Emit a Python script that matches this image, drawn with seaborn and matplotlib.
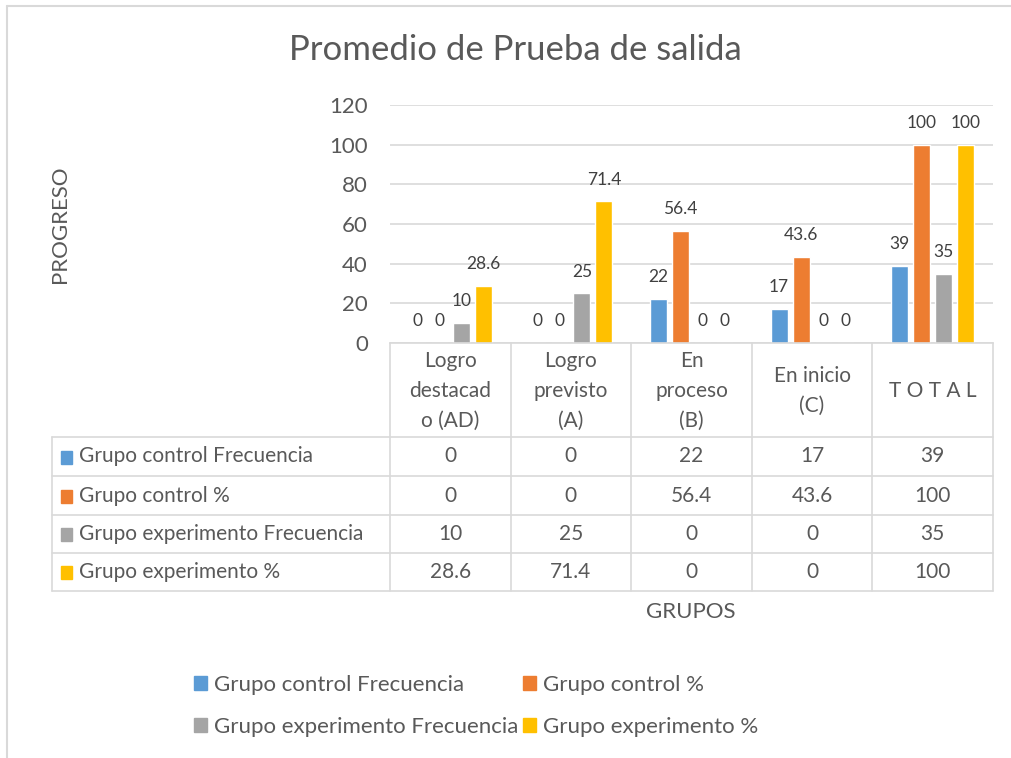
import matplotlib
matplotlib.use("Agg")
import matplotlib.pyplot as plt
import matplotlib.transforms as mtransforms
from matplotlib.lines import Line2D
from matplotlib.patches import Rectangle
import pandas as pd
import seaborn as sns

# data
categories = ["Logro\ndestacad\no (AD)", "Logro\nprevisto\n(A)", "En\nproceso\n(B)",
              "En inicio\n(C)", "T O T A L"]
series = ["Grupo control Frecuencia", "Grupo control %",
          "Grupo experimento Frecuencia", "Grupo experimento %"]
control_freq = [0, 0, 22, 17, 39]
control_pct = [0, 0, 56.4, 43.6, 100]
exper_freq = [10, 25, 0, 0, 35]
exper_pct = [28.6, 71.4, 0, 0, 100]
colors = ["#5B9BD5", "#ED7D31", "#A5A5A5", "#FFC000"]
yticks = [0, 20, 40, 60, 80, 100, 120]

values = [control_freq, control_pct, exper_freq, exper_pct]
rows = []
for s, vals in zip(series, values):
    for c, v in zip(categories, vals):
        rows.append({"cat": c, "serie": s, "val": v})
df = pd.DataFrame(rows)

sns.set_theme(style="white")
plt.rcParams["font.family"] = ["Lato", "DejaVu Sans"]

TXT = "#595959"
LINE = "#D9D9D9"
W, H = 1011, 758


def fx(x):
    return x / W


def fy(y):
    return 1 - y / H


fig = plt.figure(figsize=(W / 100, H / 100), dpi=100)
ax = fig.add_axes([fx(390), fy(343), fx(993) - fx(390), (343 - 105) / H])

sns.barplot(data=df, x="cat", y="val", hue="serie", palette=colors, saturation=1,
            width=0.73, gap=0.23, legend=False, ax=ax)

for cont in ax.containers:
    ax.bar_label(cont, fmt="{:g}", padding=10, fontsize=12.5, color="#404040")

ax.set_ylim(0, 120)
ax.set_xlim(-0.5, len(categories) - 0.5)
ax.set_yticks(yticks)
ax.set_xticks(range(len(categories)))
ax.set_xticklabels([])
ax.set_xlabel("")
ax.set_ylabel("")
ax.tick_params(axis="y", length=0, pad=16, labelsize=16, labelcolor=TXT)
ax.tick_params(axis="x", length=0)
ax.yaxis.grid(True, color=LINE, linewidth=1.2)
ax.set_axisbelow(True)
for side in ["left", "right", "top"]:
    ax.spines[side].set_visible(False)
ax.spines["bottom"].set_color(LINE)
ax.spines["bottom"].set_linewidth(1.2)

# data table below the axes
bt = mtransforms.blended_transform_factory(ax.transData, fig.transFigure)
row_y = [437, 476, 515, 553, 591]
for y in row_y:
    fig.add_artist(Line2D([fx(52), fx(993)], [fy(y), fy(y)], color=LINE, lw=1.2))
fig.add_artist(Line2D([fx(52), fx(52)], [fy(437), fy(591)], color=LINE, lw=1.2))
for i in range(len(categories) + 1):
    ax.add_line(Line2D([i - 0.5, i - 0.5], [fy(343), fy(591)], transform=bt,
                       color=LINE, lw=1.2, clip_on=False))

for i, c in enumerate(categories):
    ax.text(i, fy(391), c, transform=bt, ha="center", va="center", fontsize=15,
            color=TXT, linespacing=1.62, clip_on=False)

for r, (s, vals, col) in enumerate(zip(series, values, colors)):
    yc = (row_y[r] + row_y[r + 1]) / 2
    fig.add_artist(Rectangle((fx(61), fy(yc + 7)), 11 / W, 13 / H, color=col))
    fig.text(fx(79), fy(yc), s, ha="left", va="center", fontsize=15, color=TXT)
    for i, v in enumerate(vals):
        ax.text(i, fy(yc), f"{v:g}", transform=bt, ha="center", va="center",
                fontsize=15, color=TXT, clip_on=False)

# titles and axis labels
fig.text(fx(515), fy(50), "Promedio de Prueba de salida", ha="center", va="center",
         fontsize=25, color=TXT)
fig.text(fx(60), fy(224), "PROGRESO", rotation=90, ha="center", va="center",
         fontsize=16, color=TXT)
fig.text(fx(691), fy(612), "GRUPOS", ha="center", va="center", fontsize=16, color=TXT)

# legend, filled row by row
handles = [Rectangle((0, 0), 1, 1, color=c) for c in colors]
order = [0, 2, 1, 3]
fig.legend([handles[k] for k in order], [series[k] for k in order], ncol=2,
           loc="center", bbox_to_anchor=(fx(476), fy(706)), frameon=False,
           fontsize=16, handlelength=0.6, handleheight=0.6, handletextpad=0.3,
           columnspacing=0.2, labelspacing=1.0, labelcolor=TXT)

# chart border
fig.add_artist(Line2D([fx(7), fx(7)], [fy(6), 0], color=LINE, lw=1.5))
fig.add_artist(Line2D([fx(7), 1], [fy(6), fy(6)], color=LINE, lw=1.5))

fig.savefig("out.png", dpi=100)
